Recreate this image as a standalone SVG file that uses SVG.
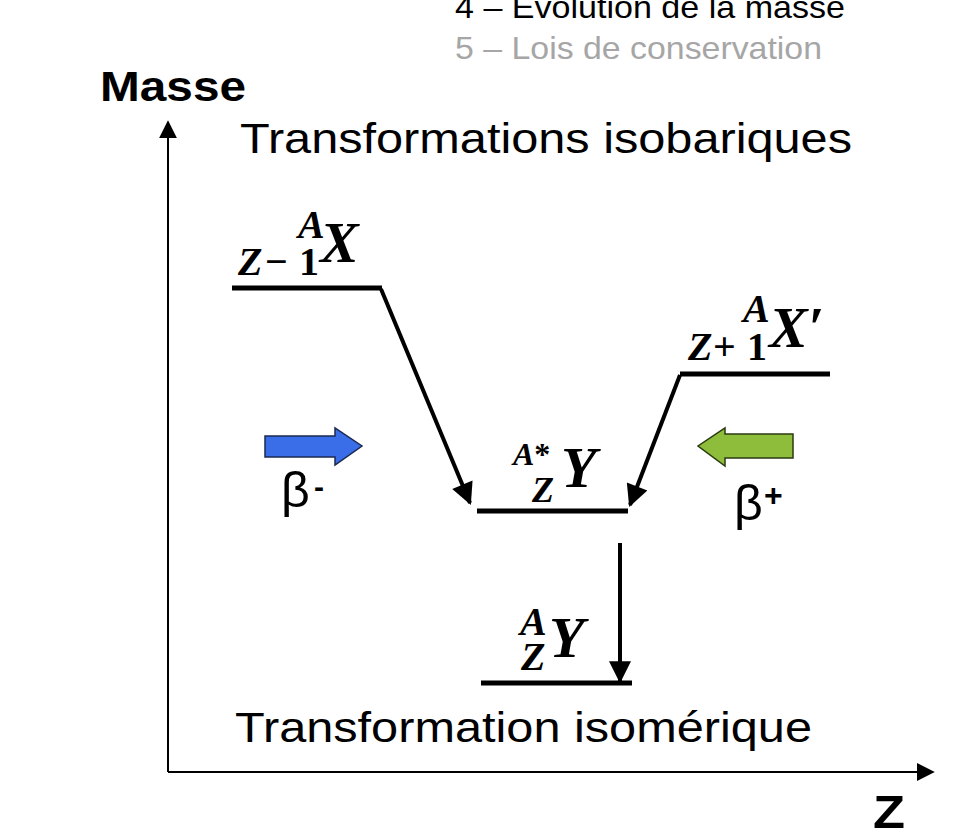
<svg xmlns="http://www.w3.org/2000/svg" width="972" height="840" viewBox="0 0 972 840">
<defs>
<style>
.sans{font-family:"Liberation Sans",Arial,sans-serif}
.math{font-family:"Liberation Serif","DejaVu Serif",serif;font-weight:bold;font-style:italic}
.up{font-style:normal}
.lvl{stroke:#000;stroke-width:5;fill:none}
.conn{stroke:#000;stroke-width:4;fill:none}
</style>
<marker id="ah" viewBox="0 0 10 10" refX="9" refY="5" markerWidth="6" markerHeight="5.5" orient="auto" markerUnits="strokeWidth">
<path d="M0,0 L10,5 L0,10 Z" fill="#000"/>
</marker>
<marker id="axh" viewBox="0 0 10 10" refX="9" refY="5" markerWidth="9" markerHeight="9" orient="auto" markerUnits="strokeWidth">
<path d="M0,0 L10,5 L0,10 Z" fill="#000"/>
</marker>
</defs>
<rect width="972" height="840" fill="#fff"/>
<text class="sans" x="455" y="18" font-size="32" textLength="390" lengthAdjust="spacingAndGlyphs" fill="#000">4 – Evolution de la masse</text>
<text class="sans" x="455" y="59" font-size="32" textLength="367" lengthAdjust="spacingAndGlyphs" fill="#a6a6a6">5 – Lois de conservation</text>
<g id="axes">
<line x1="168" y1="772" x2="168" y2="122" stroke="#000" stroke-width="2" marker-end="url(#axh)"/>
<line x1="168" y1="772" x2="933" y2="772" stroke="#000" stroke-width="2" marker-end="url(#axh)"/>
<text class="sans" x="100" y="101" font-size="43" font-weight="bold" textLength="146" lengthAdjust="spacingAndGlyphs">Masse</text>
<text class="sans" x="873" y="828" font-size="46" font-weight="bold" textLength="32" lengthAdjust="spacingAndGlyphs">Z</text>
</g>
<text class="sans" x="240" y="153" font-size="43" textLength="612" lengthAdjust="spacingAndGlyphs">Transformations isobariques</text>
<text class="sans" x="235" y="742" font-size="43" textLength="577" lengthAdjust="spacingAndGlyphs">Transformation isomérique</text>
<g id="node-X">
<line class="lvl" x1="232" y1="288" x2="382" y2="288"/>
<text class="math" x="298" y="238" font-size="40">A</text>
<text class="math" y="275" font-size="40"><tspan x="238">Z</tspan><tspan class="up" x="265">−</tspan><tspan class="up" x="299">1</tspan></text>
<text class="math" x="320" y="262" font-size="58">X</text>
</g>
<g id="node-Xp">
<line class="lvl" x1="680" y1="374" x2="830" y2="374"/>
<text class="math" x="743" y="322" font-size="40">A</text>
<text class="math" y="360" font-size="40"><tspan x="688">Z</tspan><tspan class="up" x="713">+</tspan><tspan class="up" x="747">1</tspan></text>
<text class="math" x="769" y="347" font-size="58">X′</text>
</g>
<g id="node-Ystar">
<line class="lvl" x1="477" y1="511" x2="628" y2="511"/>
<text class="math" x="513" y="465" font-size="32">A<tspan class="up">*</tspan></text>
<text class="math" x="532" y="502" font-size="36">Z</text>
<text class="math" x="561" y="487" font-size="58">Y</text>
</g>
<g id="node-Y">
<line class="lvl" x1="481" y1="683" x2="632" y2="683"/>
<text class="math" x="520" y="635" font-size="40">A</text>
<text class="math" x="521" y="670" font-size="40">Z</text>
<text class="math" x="549" y="657" font-size="58">Y</text>
</g>
<g id="beta-minus">
<path d="M265,436 H335 V428 L362,446 L335,465 V457 H265 Z" fill="#3a6ee8" stroke="#1a2a50" stroke-width="1.5"/>
<text class="sans" x="281" y="507" font-size="50">β</text>
<text class="sans" x="314" y="497" font-size="30" font-weight="bold">-</text>
</g>
<g id="beta-plus">
<path d="M793,434 H725 V428 L698,446 L725,466 V458 H793 Z" fill="#8dbd3b" stroke="#2a3a10" stroke-width="1.5"/>
<text class="sans" x="734" y="520" font-size="50">β</text>
<text class="sans" x="764" y="506" font-size="32" font-weight="bold">+</text>
</g>
<g id="connectors">
<line class="conn" x1="381" y1="289" x2="470" y2="503" marker-end="url(#ah)"/>
<line class="conn" x1="680" y1="375" x2="630" y2="505" marker-end="url(#ah)"/>
<line class="conn" x1="620" y1="543" x2="620" y2="681" marker-end="url(#ah)"/>
</g>
</svg>
